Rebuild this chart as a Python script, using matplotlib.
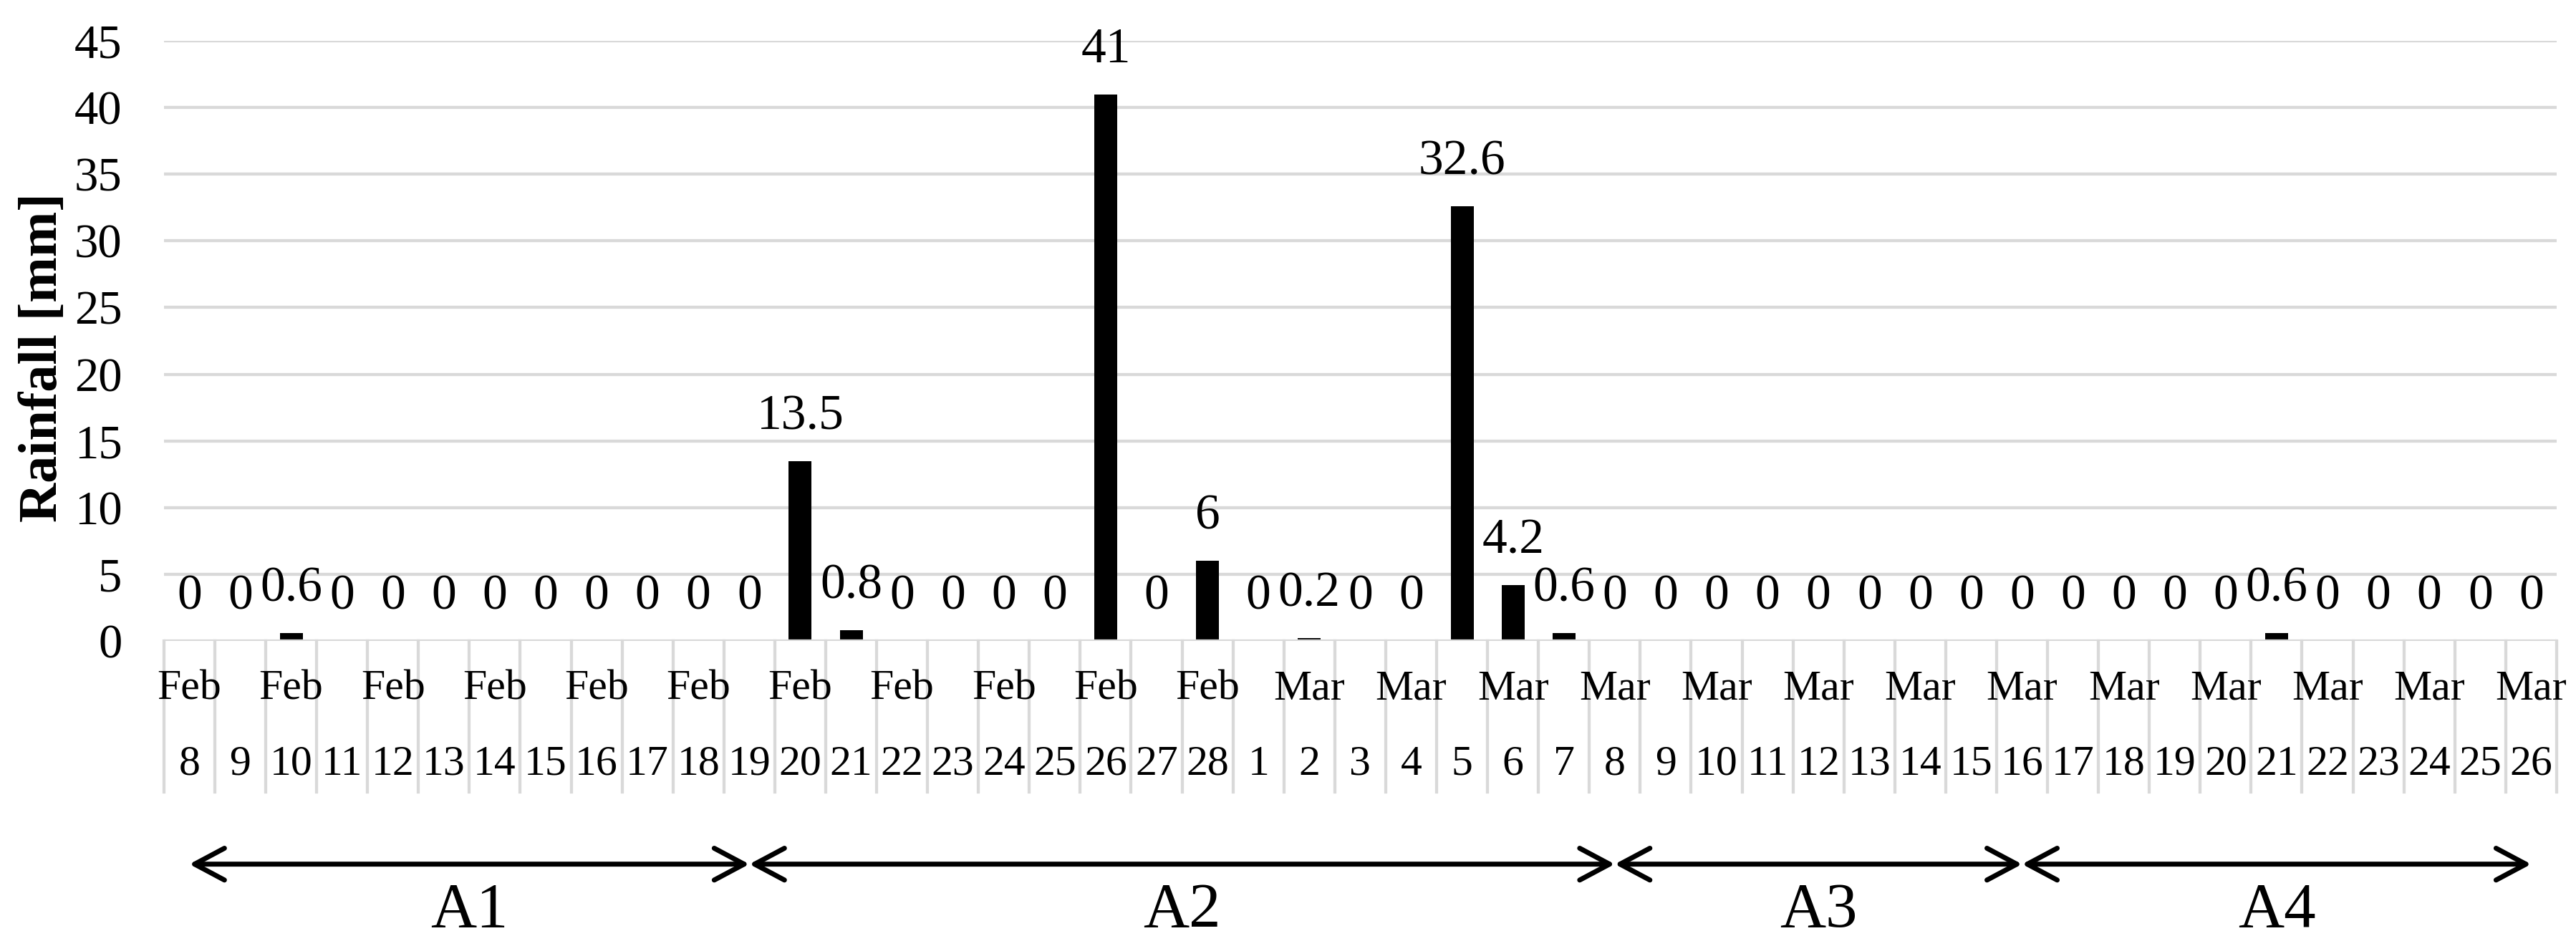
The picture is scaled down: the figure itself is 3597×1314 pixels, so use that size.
import numpy as np
import matplotlib
matplotlib.use("Agg")
import matplotlib.pyplot as plt

plt.rcParams['font.family'] = ['Liberation Serif', 'DejaVu Serif']

# daily rainfall, Feb 8 - Mar 26
months = ["Feb"] * 21 + ["Mar"] * 26
days = list(range(8, 29)) + list(range(1, 27))
rain = [0, 0, 0.6, 0, 0, 0, 0, 0, 0, 0, 0, 0, 13.5, 0.8, 0, 0, 0, 0, 41, 0, 6,
        0, 0.2, 0, 0, 32.6, 4.2, 0.6, 0, 0, 0, 0, 0, 0, 0, 0, 0, 0, 0, 0, 0,
        0.6, 0, 0, 0, 0, 0]

# measurement periods: name, first day, last day (index into the day list)
periods = ["A1", "A2", "A3", "A4"]
period_start = [0, 11, 28, 36]
period_end = [11, 28, 36, 46]

n = len(rain)
x = np.arange(n)

fig = plt.figure(figsize=(35.98, 13.14), dpi=100)
ax = fig.add_axes([0.0636, 0.3189, 0.9286, 0.6377])

grid_c = "#d9d9d9"
ax.set_xlim(-0.5, n - 0.5)
ax.set_ylim(0, 45)
ax.set_yticks(np.arange(0, 46, 5))
for yv in np.arange(0, 46, 5):
    ax.axhline(yv, color=grid_c, lw=3.1, zorder=1 if yv > 0 else 3)
for s in ax.spines.values():
    s.set_visible(False)
ax.tick_params(axis='y', length=0, pad=42, labelsize=48)
ax.set_xticks([])

ax.bar(x, rain, width=0.45, color="black", zorder=2)

for xi, v in zip(x, rain):
    ax.annotate(f"{v:g}", (xi, v), xytext=(0, 32), textcoords="offset points",
                ha="center", va="baseline", fontsize=50)

# category axis: separators, month and day labels
trans = ax.get_xaxis_transform()
for b in np.arange(-0.5, n, 1.0):
    ax.plot([b, b], [0, -0.252], transform=trans, color=grid_c, lw=3.1,
            clip_on=False, zorder=1)
for i in range(n):
    if i % 2 == 0:
        ax.text(i, -0.081, months[i], transform=trans, ha="center", va="center",
                fontsize=43)
    ax.text(i, -0.206, str(days[i]), transform=trans, ha="center", va="center",
            fontsize=43)

# period arrows
for name, a, b in zip(periods, period_start, period_end):
    ax.annotate("", xy=(b, -0.372), xytext=(a, -0.372), xycoords=trans,
                textcoords=trans,
                arrowprops=dict(arrowstyle="<->,head_length=0.75,head_width=0.4",
                                lw=5, color="black", shrinkA=0, shrinkB=0,
                                mutation_scale=40))
    ax.text((a + b) / 2, -0.476, name, transform=trans, ha="center",
            va="baseline", fontsize=64)

fig.text(0.0167, 0.62, "Rainfall [mm]", rotation=90, ha="center", va="center",
         fontsize=55, fontweight="bold")

fig.savefig("out.png", dpi=100)
